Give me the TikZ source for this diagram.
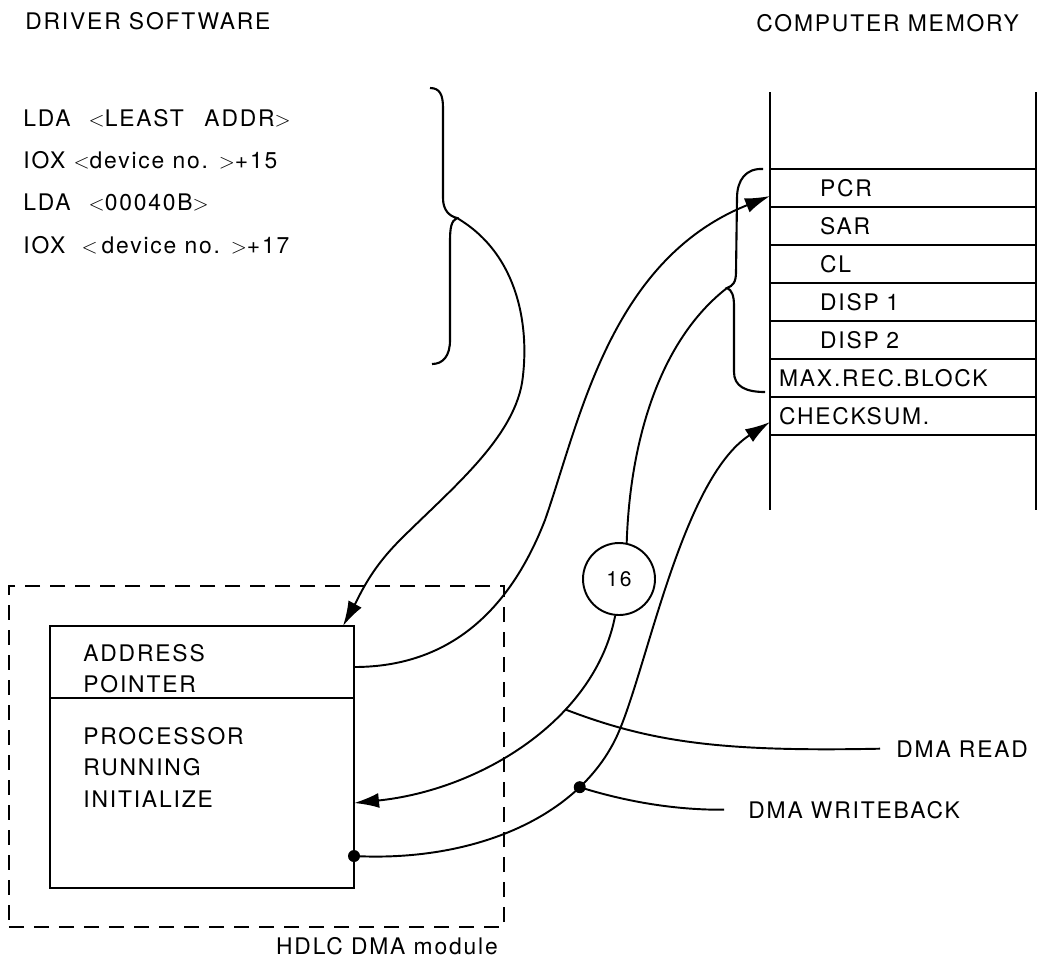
\documentclass[tikz,border=0pt]{standalone}
\usepackage{fontspec}
\setmainfont{TeX Gyre Heros}[LetterSpace=8]
\usetikzlibrary{arrows.meta,positioning,calc}
\newcommand{\lsym}{\ensuremath{<}}
\newcommand{\rsym}{\ensuremath{>}}
\tikzset{
  txt/.style={inner sep=0pt, anchor=base west, font=\fontsize{13pt}{17.8pt}\selectfont},
  block/.style={txt, anchor=north west, align=left},
  box/.style={draw, line width=1.1pt, outer sep=0pt, minimum width=60.8mm},
  cell/.style={draw, line width=1.1pt, outer sep=0pt, minimum width=53.2mm, minimum height=7.6mm,
    text width=49.6mm, inner xsep=1.8mm, inner ysep=0pt, align=left, font=\fontsize{13pt}{15pt}\selectfont},
  cellin/.style={cell, execute at begin node=\hspace*{8.2mm}},
  group/.style={draw, dash pattern=on 3mm off 2mm, line width=1.2pt, minimum width=99mm, minimum height=68.2mm},
  wire/.style={line width=1.1pt},
  arrow/.style={wire, -{Latex[length=5mm, width=3mm]}},
  dot/.style={circle, fill, inner sep=0pt, minimum size=2.4mm},
  brace/.style={line width=1.2pt},
}
\begin{document}
\begin{tikzpicture}[x=0.2mm, y=-0.2mm]
  \useasboundingbox (0,0) rectangle (1044,959);

  % Headings
  \node[txt] (drvhead) at (25,29) {DRIVER SOFTWARE};
  \node[txt] (memhead) at (756,31) {COMPUTER MEMORY};

  % Driver code
  \node[txt] (code1) at (23,126) {LDA\hspace{2mm} \lsym LEAST\hspace{2.5mm} ADDR\rsym};
  \node[txt] (code2) at (23,168) {IOX \lsym device no. \rsym+15};
  \node[txt] (code3) at (23,210) {LDA\hspace{2mm} \lsym 00040B\rsym};
  \node[txt] (code4) at (23,253) {IOX \ \lsym\,device no. \rsym+17};
  \draw[brace] (430,88) .. controls (440,88) and (443,95) .. (443,108) -- (443,198)
    .. controls (443,210) and (449,216) .. (457,218) coordinate (ltip)
    .. controls (451,221) and (450,228) .. (450,242) -- (450,340)
    .. controls (450,356) and (443,364) .. (432,364);

  % Memory
  \draw[wire] (770,92) -- (770,510);
  \draw[wire] (1036,92) -- (1036,510);
  \node[cellin] (pcr) at (903,188) {PCR};
  \node[cellin, below=0pt of pcr] (sar) {SAR};
  \node[cellin, below=0pt of sar] (cl) {CL};
  \node[cellin, below=0pt of cl] (disp1) {DISP 1};
  \node[cellin, below=0pt of disp1] (disp2) {DISP 2};
  \node[cell, below=0pt of disp2] (maxrec) {MAX.REC.BLOCK};
  \node[cell, below=0pt of maxrec] (chk) {CHECKSUM.};
  \draw[brace] (763,169) .. controls (746,168) and (737,180) .. (737,198) -- (736,272)
    .. controls (736,282) and (733,286) .. (727,288) coordinate (mtip)
    .. controls (732,290) and (734,296) .. (734,306) -- (734,372)
    .. controls (734,386) and (745,392) .. (765,392);

  % HDLC DMA module
  \node[group] (dmamod) at (256.5,756.5) {};
  \node[box, minimum height=14.4mm] (addr) at (202,662) {};
  \node[box, minimum height=38mm, below=0pt of addr] (proc) {};
  \node[block] (addrtxt) at ([xshift=6.6mm, yshift=-3.6mm]addr.north west) {ADDRESS\\POINTER};
  \node[block] (proctxt) at ([xshift=6.6mm, yshift=-5.8mm]proc.north west) {PROCESSOR\\RUNNING\\INITIALIZE};
  \node[txt, anchor=base east] (modlbl) at ([xshift=-1.4mm, yshift=-5.2mm]dmamod.south east) {HDLC DMA module};
  \node[dot] (procdot) at ([yshift=-12.6mm]proc.east) {};

  \node[draw, circle, line width=1.1pt, minimum size=14.4mm, inner sep=0pt,
    font=\fontsize{12pt}{14pt}\selectfont] (c16) at (619,579) {16};
  \node[txt] (dmaread) at (896,757) {DMA READ};
  \node[txt] (dmawb) at (748,818) {DMA WRITEBACK};

  % Arrows
  \draw[arrow] (ltip) .. controls (520,255) and (530,330) .. (522,383)
    .. controls (512,440) and (450,490) .. (400,540)
    .. controls (370,570) and (360,595) .. ([xshift=-2.2mm]addr.north east);
  \draw[arrow] ([yshift=-1mm]addr.east) .. controls (450,667) and (510,610) .. (545,520)
    .. controls (580,420) and (610,260) .. ([yshift=-1.6mm]pcr.west);
  \draw[wire] (mtip) .. controls (660,340) and (630,440) .. (c16.78);
  \draw[arrow] (c16.264) .. controls (595,720) and (480,790) .. ([yshift=-2mm]proc.east)
    coordinate[pos=0.34] (rdpt);
  \draw[arrow] (procdot.center) .. controls (470,862) and (575,820) .. (615,740)
    coordinate[pos=0.78] (wb)
    .. controls (645,680) and (680,480) .. ([yshift=-1.2mm]chk.west);
  \node[dot] (wbdot) at (wb) {};
  \draw[wire] (rdpt) .. controls (650,742) and (720,752) .. ([xshift=-3.2mm]dmaread.west);
  \draw[wire] (wbdot.center) .. controls (640,806) and (690,810) .. ([xshift=-4.8mm]dmawb.west);
\end{tikzpicture}
\end{document}
